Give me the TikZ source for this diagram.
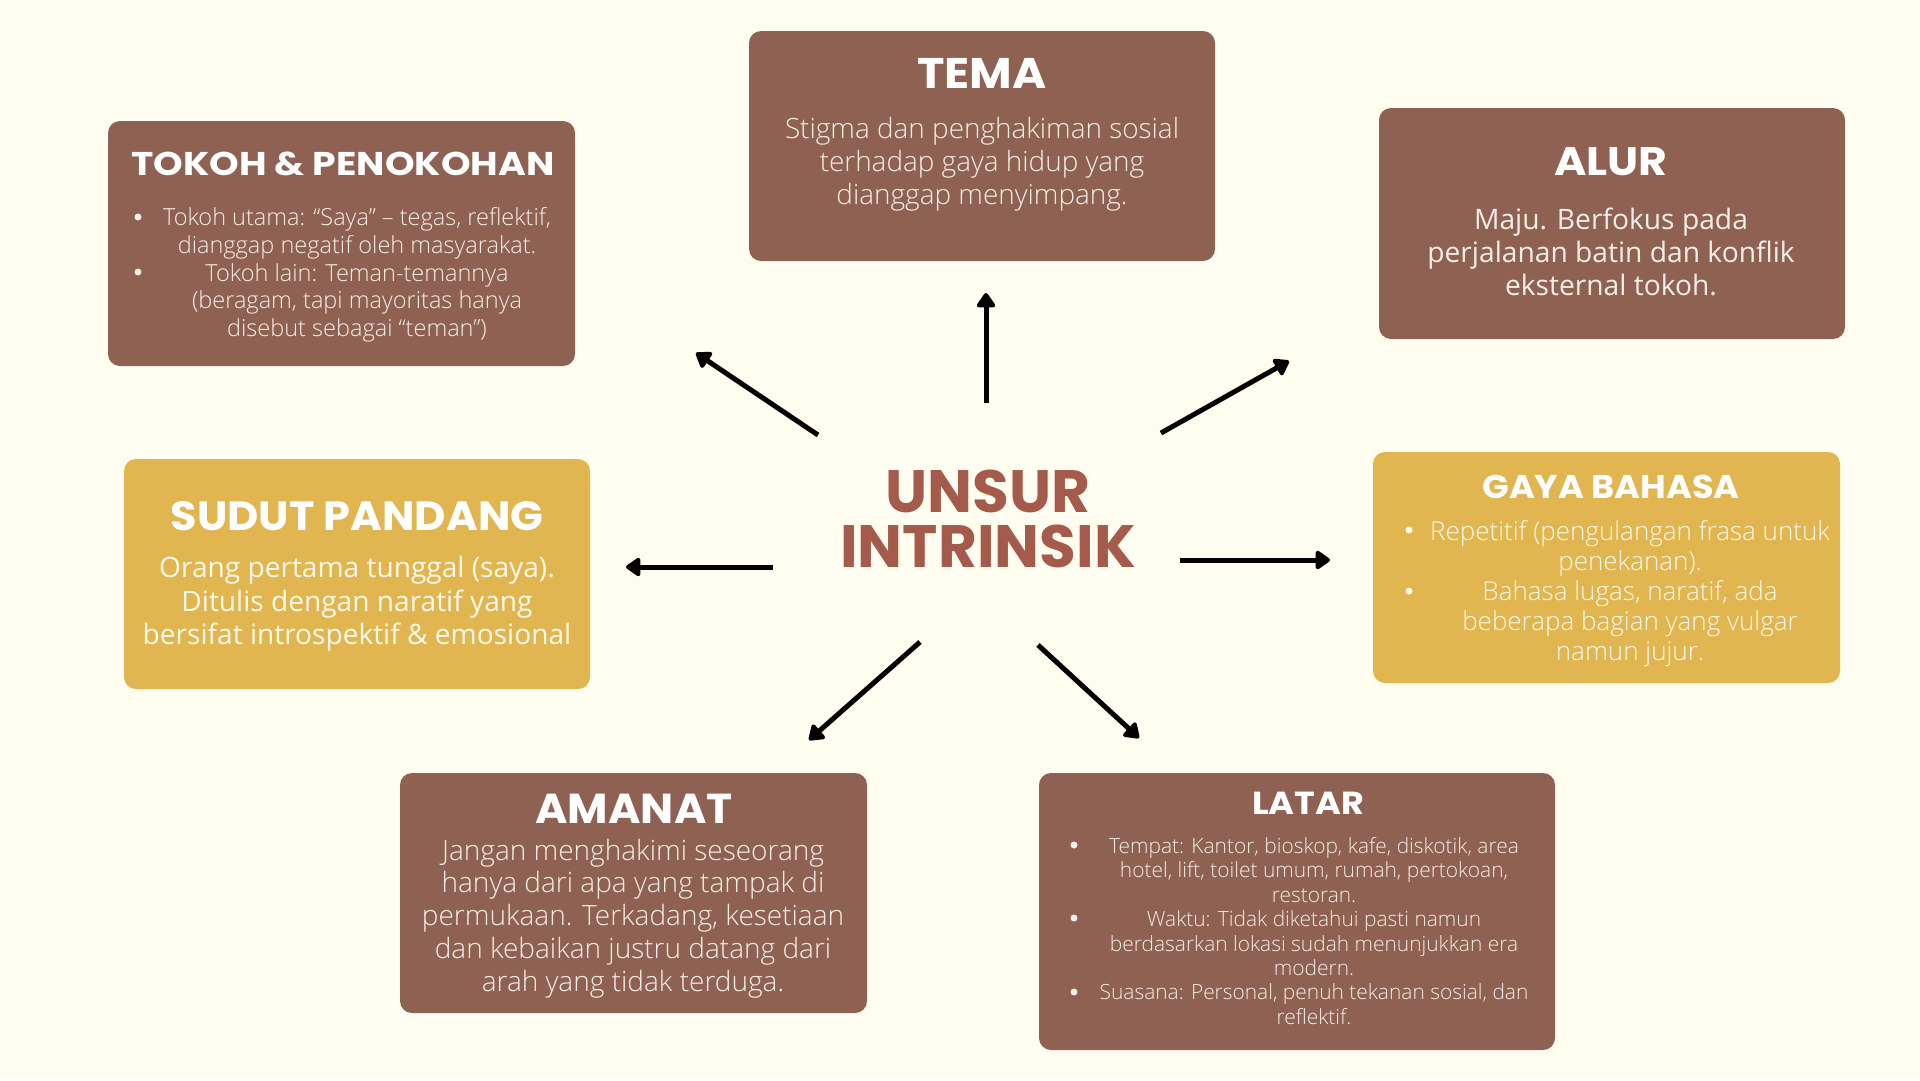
\documentclass[tikz,border=0pt]{standalone}
\usepackage{fontspec}
\usepackage{graphicx}
\setmainfont{Open Sans}
\newfontfamily\titlefont{Poppins}
\newfontfamily\lightfont{Open Sans Light}
\usetikzlibrary{arrows.meta}
\definecolor{bg}{HTML}{FFFDF0}
\definecolor{boxbrown}{HTML}{8E6152}
\definecolor{boxgold}{HTML}{E1B650}
\definecolor{hubred}{HTML}{A55B4C}
\definecolor{txtlight}{HTML}{F7EEE8}
\definecolor{txtgold}{HTML}{FFF9EA}
\tikzset{
  panel/.style={rounded corners=12bp, draw=none, inner sep=0pt, outer sep=0pt, anchor=north west},
  brownpanel/.style={panel, fill=boxbrown},
  goldpanel/.style={panel, fill=boxgold},
  ttl/.style={text=white, inner sep=0pt, font=\titlefont\bfseries\fontsize{#1}{#1}\selectfont},
  body/.style={text=txtlight, align=center, inner sep=0pt},
  goldbody/.style={text=txtgold, align=center, inner sep=0pt},
  bul/.style={circle, fill=#1, inner sep=0pt, minimum size=7bp},
  arr/.style={line width=5bp, -{Triangle[length=16bp,width=21bp,round]}, black}
}
\begin{document}
\begin{tikzpicture}[x=1bp,y=-1bp]
\fill[bg] (0,0) rectangle (1920,1080);
\useasboundingbox (0,0) rectangle (1920,1080);

% panels
\node[brownpanel, minimum width=467bp, minimum height=245bp] (tokoh) at (108,121) {};
\node[brownpanel, minimum width=466bp, minimum height=230bp] (tema) at (749,31) {};
\node[brownpanel, minimum width=466bp, minimum height=231bp] (alur) at (1379,108) {};
\node[goldpanel, minimum width=466bp, minimum height=230bp] (sudut) at (124,459) {};
\node[goldpanel, minimum width=467bp, minimum height=231bp] (gaya) at (1373,452) {};
\node[brownpanel, minimum width=467bp, minimum height=240bp] (amanat) at (400,773) {};
\node[brownpanel, minimum width=516bp, minimum height=277bp] (latar) at (1039,773) {};

% titles
\node[ttl=33] (tokohT) at (343,164) {\scalebox{1.147}[1]{TOKOH \& PENOKOHAN}};
\node[ttl=43] (temaT) at (982,73) {\scalebox{1.083}[1]{TEMA}};
\node[ttl=40] (alurT) at (1611,162) {\scalebox{1.108}[1]{ALUR}};
\node[ttl=41] (sudutT) at (357,516) {\scalebox{1.055}[1]{SUDUT PANDANG}};
\node[ttl=33] (gayaT) at (1611,487) {\scalebox{1.067}[1]{GAYA BAHASA}};
\node[ttl=42] (amanatT) at (634,809) {\scalebox{1.053}[1]{AMANAT}};
\node[ttl=32] (latarT) at (1308,803) {\scalebox{1.10}[1]{LATAR}};

% bodies
\node[body, font=\lightfont\fontsize{23.6}{27.8}\selectfont] (tokohB) at (357,275)
  {Tokoh utama: “Saya” – tegas, reflektif,\\dianggap negatif oleh masyarakat.\\Tokoh lain: Teman-temannya\\(beragam, tapi mayoritas hanya\\disebut sebagai “teman”)};
\node[bul=txtlight] (tokohb1) at (138,217) {};
\node[bul=txtlight] (tokohb2) at (138,272) {};

\node[body, font=\lightfont\fontsize{28}{33}\selectfont] (temaB) at (982,164.5)
  {Stigma dan penghakiman sosial\\terhadap gaya hidup yang\\dianggap menyimpang.};

\node[body, font=\fontsize{28.3}{33}\selectfont] (alurB) at (1611,252)
  {Maju. Berfokus pada\\perjalanan batin dan konflik\\eksternal tokoh.};

\node[goldbody, font=\fontsize{28.2}{33.5}\selectfont] (sudutB) at (357,604)
  {Orang pertama tunggal (saya).\\Ditulis dengan naratif yang\\bersifat introspektif \& emosional};

\node[goldbody, font=\lightfont\fontsize{26.1}{30.2}\selectfont] (gayaB) at (1630,593.5)
  {Repetitif (pengulangan frasa untuk\\penekanan).\\Bahasa lugas, naratif, ada\\beberapa bagian yang vulgar\\namun jujur.};
\node[bul=txtgold] (gayab1) at (1409,530) {};
\node[bul=txtgold] (gayab2) at (1409,591) {};

\node[body, font=\lightfont\fontsize{28.1}{33}\selectfont] (amanatB) at (633,918.5)
  {Jangan menghakimi seseorang\\hanya dari apa yang tampak di\\permukaan. Terkadang, kesetiaan\\dan kebaikan justru datang dari\\arah yang tidak terduga.};

\node[body, font=\lightfont\fontsize{21}{24.5}\selectfont] (latarB) at (1314,931)
  {Tempat: Kantor, bioskop, kafe, diskotik, area\\hotel, lift, toilet umum, rumah, pertokoan,\\restoran.\\Waktu: Tidak diketahui pasti namun\\berdasarkan lokasi sudah menunjukkan era\\modern.\\Suasana: Personal, penuh tekanan sosial, dan\\reflektif.};
\node[bul=txtlight] (latarb1) at (1074,845) {};
\node[bul=txtlight] (latarb2) at (1074,918) {};
\node[bul=txtlight] (latarb3) at (1074,992) {};

% hub
\node[text=hubred, align=center, inner sep=0pt, font=\titlefont\bfseries\fontsize{60}{56}\selectfont] (hub) at (988,519) {UNSUR\\INTRINSIK};

% arrow ends
\coordinate (s1) at (818,435); \coordinate (e1) at (696,353);
\coordinate (s2) at (986,403); \coordinate (e2) at (986,293);
\coordinate (s3) at (1161,433); \coordinate (e3) at (1289,361);
\coordinate (s4) at (773,567); \coordinate (e4) at (626,567);
\coordinate (s5) at (1180,560); \coordinate (e5) at (1330,560);
\coordinate (s6) at (920,642); \coordinate (e6) at (809,740);
\coordinate (s7) at (1038,645); \coordinate (e7) at (1139,738);
\draw[arr] (s1) -- (e1);
\draw[arr] (s2) -- (e2);
\draw[arr] (s3) -- (e3);
\draw[arr] (s4) -- (e4);
\draw[arr] (s5) -- (e5);
\draw[arr] (s6) -- (e6);
\draw[arr] (s7) -- (e7);
\end{tikzpicture}
\end{document}
